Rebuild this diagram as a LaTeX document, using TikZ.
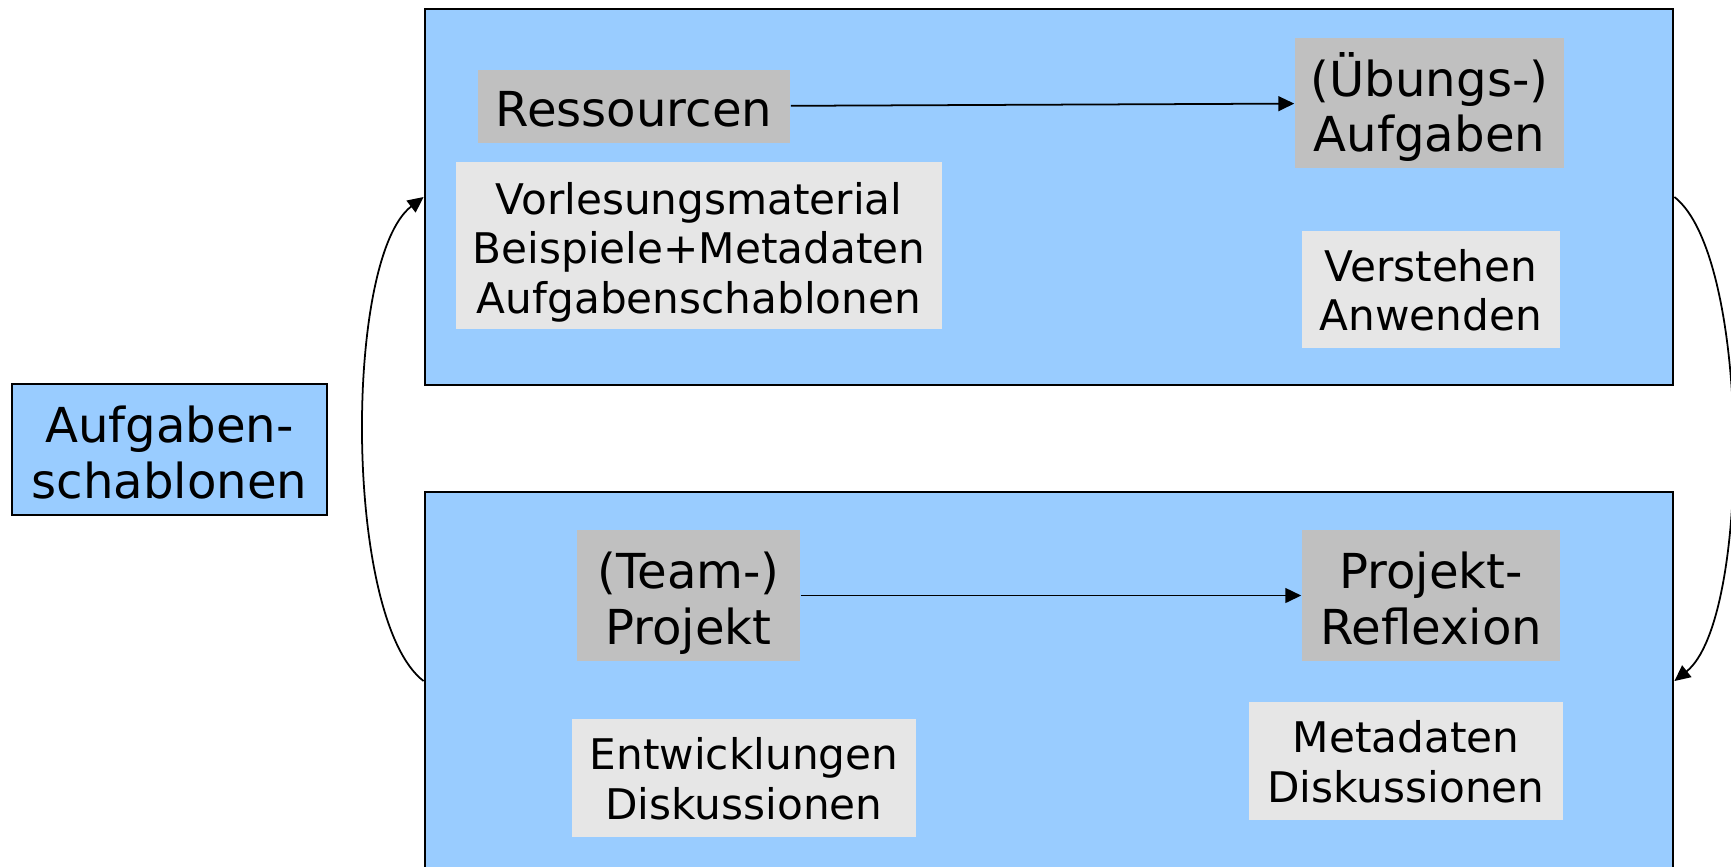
\documentclass[tikz,border=0pt]{standalone}
\usepackage{fontspec}
\setmainfont{DejaVu Sans}
\usetikzlibrary{arrows.meta}
\definecolor{hblau}{HTML}{99CCFF}
\definecolor{mgrau}{HTML}{C0C0C0}
\definecolor{hgrau}{HTML}{E6E6E6}
\begin{document}
\begin{tikzpicture}[x=0.01cm,y=-0.01cm,>={Triangle[length=4.5pt,width=4.2pt]},
    rahmen/.style={draw,line width=0.6pt,fill=hblau,inner sep=0pt},
    gross/.style={fill=mgrau,inner sep=0pt,align=center,font=\fontsize{13.7}{15.7}\selectfont,text height=27.6pt,text depth=0pt},
    klein/.style={fill=hgrau,inner sep=0pt,align=center,font=\fontsize{12}{14}\selectfont,text height=23.4pt,text depth=0pt}]
        \useasboundingbox(0,0)rectangle(1731,866);
        \clip(0,0)rectangle(1731,866);
        % die beiden Ebenen
        \node[rahmen,minimum width=12.48cm,minimum height=3.76cm](oben)at(1049,197){};
        \node[rahmen,minimum width=12.48cm,minimum height=3.78cm](unten)at(1049,681){};
        \node[rahmen,align=center,minimum width=3.15cm,minimum height=1.31cm,font=\fontsize{13.7}{15.7}\selectfont,text height=27.6pt,text depth=0pt](schab)at(169.5,449.5){Aufgaben-\\schablonen};
        % oben
        \node[gross,minimum width=3.12cm,minimum height=0.73cm,text height=11.1pt](res)at(634,106.5){Ressourcen};
        \node[gross,minimum width=2.69cm,minimum height=1.30cm](auf)at(1429.5,103){(Übungs-)\\Aufgaben};
        \node[klein,minimum width=4.86cm,minimum height=1.67cm,text height=38.4pt](vor)at(699,245.5){Vorlesungsmaterial\\Beispiele+Metadaten\\Aufgabenschablonen};
        \node[klein,minimum width=2.58cm,minimum height=1.17cm](vers)at(1431,289.5){Verstehen\\Anwenden};
        % unten
        \node[gross,minimum width=2.23cm,minimum height=1.30cm](team)at(688.5,595.5){(Team-)\\Projekt};
        \node[gross,minimum width=2.58cm,minimum height=1.30cm](refl)at(1431,595.5){Projekt-\\Reflexion};
        \node[klein,minimum width=3.44cm,minimum height=1.18cm](entw)at(744,778){Entwicklungen\\Diskussionen};
        \node[klein,minimum width=3.14cm,minimum height=1.18cm](meta)at(1406,761){Metadaten\\Diskussionen};
        \draw[->,line width=0.5pt](res)--(auf);
        \draw[->,line width=0.5pt](team)--(refl);
        \draw[->,line width=0.5pt](unten.west)..controls+(-80,-61)and+(-80,61)..(oben.west);
        \draw[->,line width=0.5pt](oben.east)..controls+(77,60)and+(77,-61)..(unten.east);
    \end{tikzpicture}
\end{document}
